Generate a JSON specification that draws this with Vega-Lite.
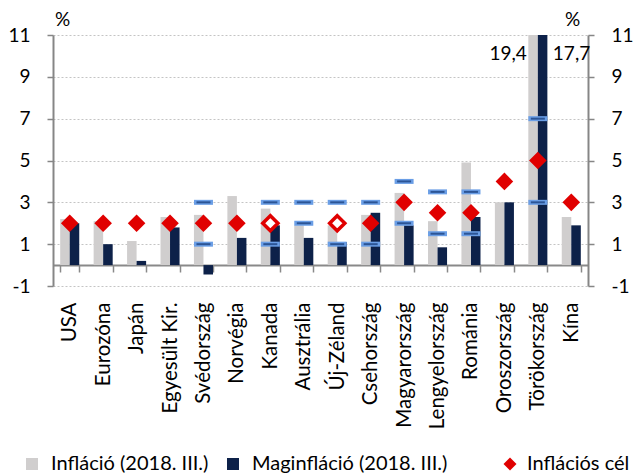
{
  "$schema": "https://vega.github.io/schema/vega-lite/v6.json",
  "width": 535,
  "height": 251,
  "autosize": {"type": "none"},
  "padding": {"left": 53, "top": 35, "right": 45, "bottom": 189},
  "background": "white",
  "config": {
    "font": "Lato",
    "view": {"stroke": null},
    "axis": {"labelFont": "Lato", "labelFontSize": 19, "labelColor": "#000000", "domainColor": "#868686", "tickColor": "#868686", "titleFont": "Lato", "titleFontSize": 19, "titleFontWeight": "normal", "titleColor": "#000000"},
    "legend": {"labelFont": "Lato", "labelFontSize": 20, "labelColor": "#000000", "padding": 0, "labelLimit": 400}
  },
  "datasets": {
    "bars": [
      {"country": "USA", "series": "Infláció (2018. III.)", "value": 2.2},
      {"country": "USA", "series": "Maginfláció (2018. III.)", "value": 2.0},
      {"country": "Eurozóna", "series": "Infláció (2018. III.)", "value": 2.1},
      {"country": "Eurozóna", "series": "Maginfláció (2018. III.)", "value": 1.0},
      {"country": "Japán", "series": "Infláció (2018. III.)", "value": 1.15},
      {"country": "Japán", "series": "Maginfláció (2018. III.)", "value": 0.2},
      {"country": "Egyesült Kir.", "series": "Infláció (2018. III.)", "value": 2.3},
      {"country": "Egyesült Kir.", "series": "Maginfláció (2018. III.)", "value": 1.8},
      {"country": "Svédország", "series": "Infláció (2018. III.)", "value": 2.4},
      {"country": "Svédország", "series": "Maginfláció (2018. III.)", "value": -0.45},
      {"country": "Norvégia", "series": "Infláció (2018. III.)", "value": 3.3},
      {"country": "Norvégia", "series": "Maginfláció (2018. III.)", "value": 1.3},
      {"country": "Kanada", "series": "Infláció (2018. III.)", "value": 2.7},
      {"country": "Kanada", "series": "Maginfláció (2018. III.)", "value": 1.9},
      {"country": "Ausztrália", "series": "Infláció (2018. III.)", "value": 1.9},
      {"country": "Ausztrália", "series": "Maginfláció (2018. III.)", "value": 1.3},
      {"country": "Új-Zéland", "series": "Infláció (2018. III.)", "value": 1.9},
      {"country": "Új-Zéland", "series": "Maginfláció (2018. III.)", "value": 1.1},
      {"country": "Csehország", "series": "Infláció (2018. III.)", "value": 2.4},
      {"country": "Csehország", "series": "Maginfláció (2018. III.)", "value": 2.5},
      {"country": "Magyarország", "series": "Infláció (2018. III.)", "value": 3.45},
      {"country": "Magyarország", "series": "Maginfláció (2018. III.)", "value": 1.9},
      {"country": "Lengyelország", "series": "Infláció (2018. III.)", "value": 2.1},
      {"country": "Lengyelország", "series": "Maginfláció (2018. III.)", "value": 0.85},
      {"country": "Románia", "series": "Infláció (2018. III.)", "value": 4.9},
      {"country": "Románia", "series": "Maginfláció (2018. III.)", "value": 2.3},
      {"country": "Oroszország", "series": "Infláció (2018. III.)", "value": 3.0},
      {"country": "Oroszország", "series": "Maginfláció (2018. III.)", "value": 3.0},
      {"country": "Törökország", "series": "Infláció (2018. III.)", "value": 19.4},
      {"country": "Törökország", "series": "Maginfláció (2018. III.)", "value": 17.7},
      {"country": "Kína", "series": "Infláció (2018. III.)", "value": 2.3},
      {"country": "Kína", "series": "Maginfláció (2018. III.)", "value": 1.9}
    ],
    "bands": [
      {"country": "Svédország", "band": 1},
      {"country": "Svédország", "band": 3},
      {"country": "Kanada", "band": 1},
      {"country": "Kanada", "band": 3},
      {"country": "Ausztrália", "band": 2},
      {"country": "Ausztrália", "band": 3},
      {"country": "Új-Zéland", "band": 1},
      {"country": "Új-Zéland", "band": 3},
      {"country": "Csehország", "band": 1},
      {"country": "Csehország", "band": 3},
      {"country": "Magyarország", "band": 2},
      {"country": "Magyarország", "band": 4},
      {"country": "Lengyelország", "band": 1.5},
      {"country": "Lengyelország", "band": 3.5},
      {"country": "Románia", "band": 1.5},
      {"country": "Románia", "band": 3.5},
      {"country": "Törökország", "band": 3},
      {"country": "Törökország", "band": 7}
    ],
    "targets": [
      {"country": "USA", "target": 2, "hollow": false, "series": "Inflációs cél"},
      {"country": "Eurozóna", "target": 2, "hollow": false, "series": "Inflációs cél"},
      {"country": "Japán", "target": 2, "hollow": false, "series": "Inflációs cél"},
      {"country": "Egyesült Kir.", "target": 2, "hollow": false, "series": "Inflációs cél"},
      {"country": "Svédország", "target": 2, "hollow": false, "series": "Inflációs cél"},
      {"country": "Norvégia", "target": 2, "hollow": false, "series": "Inflációs cél"},
      {"country": "Kanada", "target": 2, "hollow": true, "series": "Inflációs cél"},
      {"country": "Új-Zéland", "target": 2, "hollow": true, "series": "Inflációs cél"},
      {"country": "Csehország", "target": 2, "hollow": false, "series": "Inflációs cél"},
      {"country": "Magyarország", "target": 3, "hollow": false, "series": "Inflációs cél"},
      {"country": "Lengyelország", "target": 2.5, "hollow": false, "series": "Inflációs cél"},
      {"country": "Románia", "target": 2.5, "hollow": false, "series": "Inflációs cél"},
      {"country": "Oroszország", "target": 4, "hollow": false, "series": "Inflációs cél"},
      {"country": "Törökország", "target": 5, "hollow": false, "series": "Inflációs cél"},
      {"country": "Kína", "target": 3, "hollow": false, "series": "Inflációs cél"}
    ],
    "labels": [
      {"country": "Törökország", "series": "Infláció (2018. III.)", "label": "19,4"},
      {"country": "Törökország", "series": "Maginfláció (2018. III.)", "label": "17,7"}
    ]
  },
  "layer": [
    {
      "data": {"name": "bars"},
      "mark": {"type": "bar", "clip": true},
      "encoding": {
        "x": {
          "field": "country", "type": "nominal",
          "sort": ["USA", "Eurozóna", "Japán", "Egyesült Kir.", "Svédország", "Norvégia", "Kanada", "Ausztrália", "Új-Zéland", "Csehország", "Magyarország", "Lengyelország", "Románia", "Oroszország", "Törökország", "Kína"],
          "scale": {"domain": ["USA", "Eurozóna", "Japán", "Egyesült Kir.", "Svédország", "Norvégia", "Kanada", "Ausztrália", "Új-Zéland", "Csehország", "Magyarország", "Lengyelország", "Románia", "Oroszország", "Törökország", "Kína"], "paddingInner": 0.43, "paddingOuter": 0.215},
          "axis": {"title": null, "labelAngle": -90, "labelPadding": 30, "tickBand": "extent", "tickSize": 7, "domainWidth": 2, "domainColor": "#898989", "tickColor": "#898989", "tickWidth": 1.5, "offset": -21, "labelFontSize": 20.5}
        },
        "xOffset": {"field": "series", "type": "nominal", "sort": ["Infláció (2018. III.)", "Maginfláció (2018. III.)"], "scale": {"paddingInner": 0, "paddingOuter": 0}},
        "y": {
          "field": "value", "type": "quantitative",
          "scale": {"domain": [-1, 11], "nice": false, "zero": false},
          "axis": {"values": [-1, 1, 3, 5, 7, 9, 11], "labelExpr": "datum.value + ''", "grid": true, "gridDash": [2, 2], "gridColor": "#c4c4c4", "domainWidth": 2, "tickSize": 6, "tickWidth": 1.5, "labelPadding": 17, "title": "%", "titleAngle": 0, "titleX": 9, "titleY": -16, "titleAlign": "center", "titleBaseline": "middle"}
        },
        "color": {
          "field": "series", "type": "nominal",
          "scale": {"domain": ["Infláció (2018. III.)", "Maginfláció (2018. III.)"], "range": ["#d0cece", "#0d2149"]},
          "legend": {"title": null, "orient": "none", "legendX": -31, "legendY": 419, "direction": "horizontal", "symbolType": "square", "symbolSize": 144, "symbolStrokeWidth": 0, "labelOffset": 9, "columnPadding": 14}
        }
      }
    },
    {
      "data": {"name": "bands"},
      "mark": {"type": "tick", "size": 19, "thickness": 5, "color": "#6a9ee6", "opacity": 1},
      "encoding": {
        "x": {"field": "country", "type": "nominal", "sort": ["USA", "Eurozóna", "Japán", "Egyesült Kir.", "Svédország", "Norvégia", "Kanada", "Ausztrália", "Új-Zéland", "Csehország", "Magyarország", "Lengyelország", "Románia", "Oroszország", "Törökország", "Kína"]},
        "y": {
          "field": "band", "type": "quantitative",
          "scale": {"domain": [-1, 11], "nice": false, "zero": false},
          "axis": {"orient": "right", "values": [-1, 1, 3, 5, 7, 9, 11], "labelExpr": "datum.value + ''", "grid": false, "domainWidth": 2, "tickSize": 6, "tickWidth": 1.5, "labelPadding": 17, "title": "%", "titleAngle": 0, "titleX": -16, "titleY": -16, "titleAlign": "center", "titleBaseline": "middle"}
        }
      }
    },
    {
      "data": {"name": "bands"},
      "mark": {"type": "tick", "size": 14, "thickness": 2, "color": "#2c5596", "opacity": 1},
      "encoding": {
        "x": {"field": "country", "type": "nominal", "sort": ["USA", "Eurozóna", "Japán", "Egyesült Kir.", "Svédország", "Norvégia", "Kanada", "Ausztrália", "Új-Zéland", "Csehország", "Magyarország", "Lengyelország", "Románia", "Oroszország", "Törökország", "Kína"]},
        "y": {"field": "band", "type": "quantitative", "scale": {"domain": [-1, 11], "nice": false, "zero": false}, "axis": null}
      }
    },
    {
      "data": {"name": "targets"},
      "transform": [{"filter": "!datum.hollow"}],
      "mark": {"type": "point", "filled": true, "color": "#e00000", "opacity": 1, "size": 310},
      "encoding": {
        "x": {"field": "country", "type": "nominal", "sort": ["USA", "Eurozóna", "Japán", "Egyesült Kir.", "Svédország", "Norvégia", "Kanada", "Ausztrália", "Új-Zéland", "Csehország", "Magyarország", "Lengyelország", "Románia", "Oroszország", "Törökország", "Kína"]},
        "y": {"field": "target", "type": "quantitative", "scale": {"domain": [-1, 11], "nice": false, "zero": false}, "axis": null},
        "shape": {
          "field": "series", "type": "nominal",
          "scale": {"domain": ["Inflációs cél"], "range": ["diamond"]},
          "legend": {"title": null, "orient": "none", "legendX": 447, "legendY": 419, "symbolFillColor": "#e00000", "symbolStrokeWidth": 0, "symbolSize": 169, "labelOffset": 7}
        }
      }
    },
    {
      "data": {"name": "targets"},
      "transform": [{"filter": "datum.hollow"}],
      "mark": {"type": "point", "shape": "diamond", "filled": true, "fill": "#ffffff", "stroke": "#e00000", "strokeWidth": 3.5, "opacity": 1, "size": 230},
      "encoding": {
        "x": {"field": "country", "type": "nominal", "sort": ["USA", "Eurozóna", "Japán", "Egyesült Kir.", "Svédország", "Norvégia", "Kanada", "Ausztrália", "Új-Zéland", "Csehország", "Magyarország", "Lengyelország", "Románia", "Oroszország", "Törökország", "Kína"]},
        "y": {"field": "target", "type": "quantitative", "scale": {"domain": [-1, 11], "nice": false, "zero": false}, "axis": null}
      }
    },
    {
      "data": {"name": "labels"},
      "transform": [{"filter": "datum.series == 'Infláció (2018. III.)'"}],
      "mark": {"type": "text", "align": "right", "baseline": "middle", "dx": -11, "fontSize": 19, "font": "Lato", "color": "#000000"},
      "encoding": {
        "x": {"field": "country", "type": "nominal", "sort": ["USA", "Eurozóna", "Japán", "Egyesült Kir.", "Svédország", "Norvégia", "Kanada", "Ausztrália", "Új-Zéland", "Csehország", "Magyarország", "Lengyelország", "Románia", "Oroszország", "Törökország", "Kína"]},
        "y": {"datum": 10.1, "type": "quantitative", "scale": {"domain": [-1, 11], "nice": false, "zero": false}, "axis": null},
        "text": {"field": "label"}
      }
    },
    {
      "data": {"name": "labels"},
      "transform": [{"filter": "datum.series == 'Maginfláció (2018. III.)'"}],
      "mark": {"type": "text", "align": "left", "baseline": "middle", "dx": 15, "fontSize": 19, "font": "Lato", "color": "#000000"},
      "encoding": {
        "x": {"field": "country", "type": "nominal", "sort": ["USA", "Eurozóna", "Japán", "Egyesült Kir.", "Svédország", "Norvégia", "Kanada", "Ausztrália", "Új-Zéland", "Csehország", "Magyarország", "Lengyelország", "Románia", "Oroszország", "Törökország", "Kína"]},
        "y": {"datum": 10.1, "type": "quantitative", "scale": {"domain": [-1, 11], "nice": false, "zero": false}, "axis": null},
        "text": {"field": "label"}
      }
    }
  ],
  "resolve": {"axis": {"y": "independent"}}
}
